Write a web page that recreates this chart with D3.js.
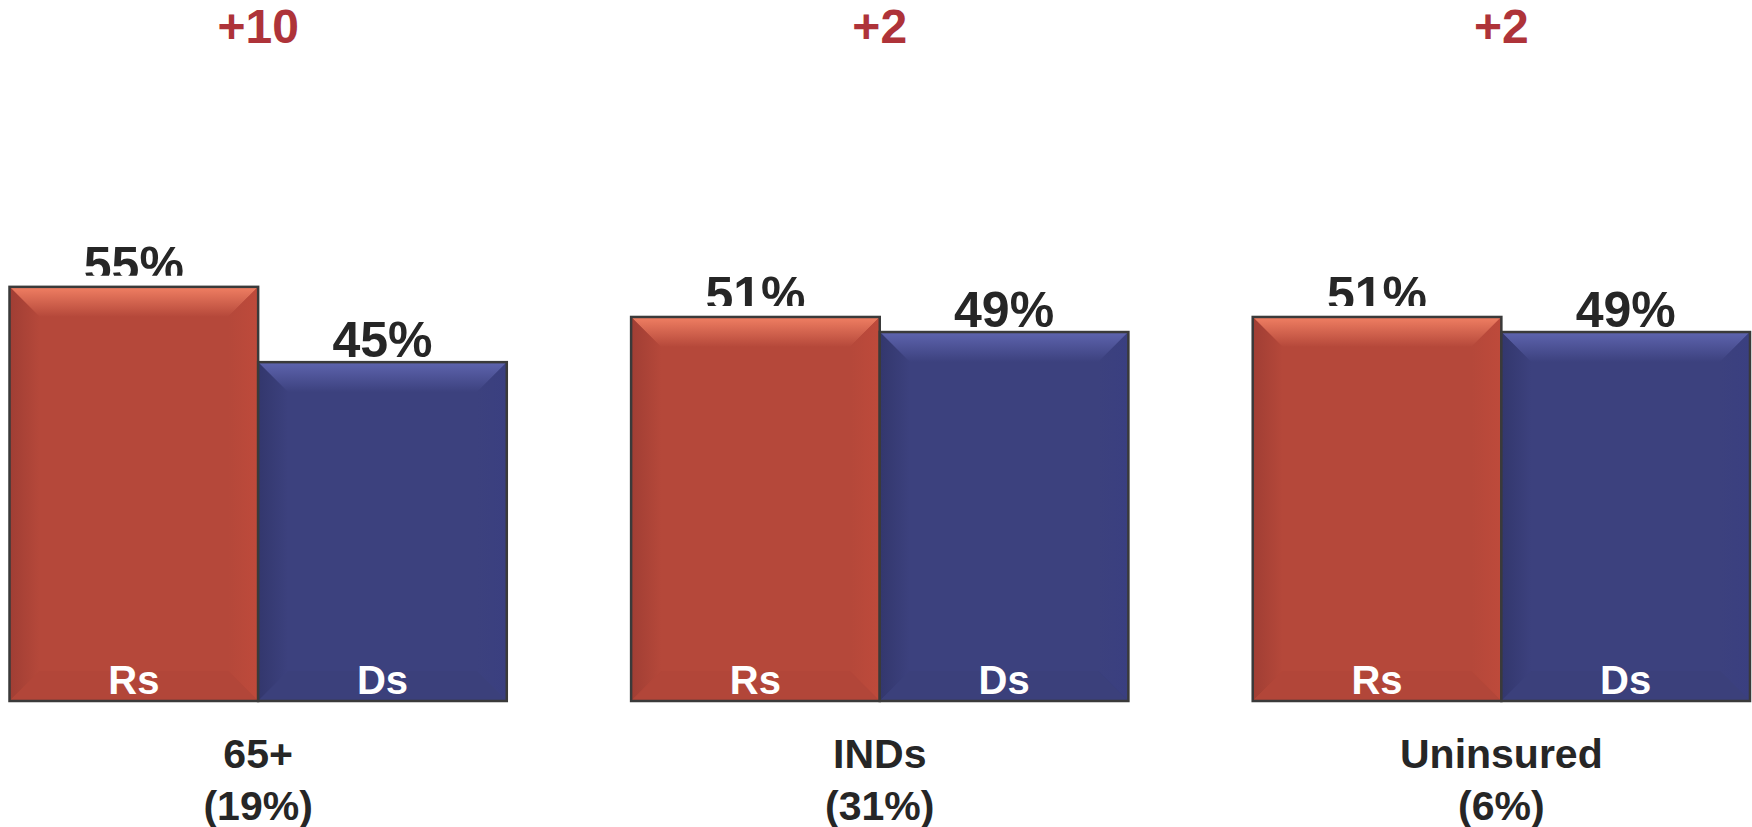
<!DOCTYPE html>
<html>
<head>
<meta charset="utf-8">
<script src="https://cdn.jsdelivr.net/npm/d3@7"></script>
<style>
  html, body { margin: 0; padding: 0; background: #ffffff; }
  svg { display: block; font-family: "Liberation Sans", Arial, sans-serif; }
</style>
</head>
<body>
<svg id="chart" width="1752" height="827"></svg>
<script>
// ---- data ----
const categories = ["65+", "INDs", "Uninsured"];
const shares = ["(19%)", "(31%)", "(6%)"];
const series = ["Rs", "Ds"];
const repValues = [55, 51, 51];
const demValues = [45, 49, 49];
const margins = ["+10", "+2", "+2"];

const W = 1752, H = 827;
const svg = d3.select("#chart");
const defs = svg.append("defs");

const x0 = d3.scaleBand().domain(categories).range([9.5, 1750]).paddingInner(0.2).paddingOuter(0);
const x1 = d3.scaleBand().domain(series).range([0, x0.bandwidth()]).padding(0);
const y = d3.scaleLinear().domain([0, 100]).range([701, -52]);

const palette = {
  Rs: { main: "#B5483A", light: "#F07F63", dark: "#A03E34", right: "#BE4A3B", bottom: "#B24639" },
  Ds: { main: "#3C417E", light: "#5E64AE", dark: "#33376D", right: "#3A3F80", bottom: "#3B407B" }
};

// gradients
series.forEach(s => {
  const p = palette[s];
  const gt = defs.append("linearGradient").attr("id", "top-" + s).attr("x1", 0).attr("y1", 0).attr("x2", 0).attr("y2", 1);
  gt.append("stop").attr("offset", "0%").attr("stop-color", p.light);
  gt.append("stop").attr("offset", "100%").attr("stop-color", p.main);
  const gl = defs.append("linearGradient").attr("id", "left-" + s).attr("x1", 0).attr("y1", 0).attr("x2", 1).attr("y2", 0);
  gl.append("stop").attr("offset", "0%").attr("stop-color", p.dark);
  gl.append("stop").attr("offset", "100%").attr("stop-color", p.main);
  const gr = defs.append("linearGradient").attr("id", "right-" + s).attr("x1", 0).attr("y1", 0).attr("x2", 1).attr("y2", 0);
  gr.append("stop").attr("offset", "0%").attr("stop-color", p.main);
  gr.append("stop").attr("offset", "100%").attr("stop-color", p.right);
});

const rows = categories.map((c, i) => ({
  cat: c, share: shares[i], margin: margins[i],
  bars: [{ s: "Rs", v: repValues[i], cat: c }, { s: "Ds", v: demValues[i], cat: c }]
}));

const bev = 30;
const labelFont = 50;

const groups = svg.selectAll("g.grp").data(rows).join("g")
  .attr("class", "grp")
  .attr("transform", d => `translate(${x0(d.cat)},0)`);

// value labels (drawn first, bars over them)
groups.each(function(d, gi) {
  const g = d3.select(this);
  d.bars.forEach((b, bi) => {
    const bx = x1(b.s), bw = x1.bandwidth();
    const top = y(b.v);
    const t = g.append("text")
      .attr("x", bx + bw / 2)
      .attr("y", top - 5)
      .attr("text-anchor", "middle")
      .attr("font-size", labelFont)
      .attr("font-weight", "bold")
      .attr("fill", "#262626")
      .text(b.v + "%");
    if (b.s === "Rs") {
      const cid = "clip-" + gi;
      defs.append("clipPath").attr("id", cid)
        .append("rect")
        .attr("x", bx - 20).attr("y", top - 80)
        .attr("width", bw + 40).attr("height", 80 - 11);
      t.attr("clip-path", `url(#${cid})`);
    }
  });
});

// bars
groups.each(function(d) {
  const g = d3.select(this);
  d.bars.forEach(b => {
    const p = palette[b.s];
    const bx = x1(b.s), bw = x1.bandwidth();
    const top = y(b.v), bot = y(0);
    const bg = g.append("g");
    bg.append("rect").attr("x", bx).attr("y", top).attr("width", bw).attr("height", bot - top).attr("fill", p.main);
    // top face
    bg.append("polygon")
      .attr("points", [[bx, top], [bx + bw, top], [bx + bw - bev, top + bev], [bx + bev, top + bev]].map(q => q.join(",")).join(" "))
      .attr("fill", `url(#top-${b.s})`);
    // left face
    bg.append("polygon")
      .attr("points", [[bx, top], [bx + bev, top + bev], [bx + bev, bot - bev], [bx, bot]].map(q => q.join(",")).join(" "))
      .attr("fill", `url(#left-${b.s})`);
    // right face
    bg.append("polygon")
      .attr("points", [[bx + bw, top], [bx + bw - bev, top + bev], [bx + bw - bev, bot - bev], [bx + bw, bot]].map(q => q.join(",")).join(" "))
      .attr("fill", `url(#right-${b.s})`);
    // bottom face
    bg.append("polygon")
      .attr("points", [[bx, bot], [bx + bev, bot - bev], [bx + bw - bev, bot - bev], [bx + bw, bot]].map(q => q.join(",")).join(" "))
      .attr("fill", p.bottom);
    // border
    bg.append("rect").attr("x", bx).attr("y", top).attr("width", bw).attr("height", bot - top)
      .attr("fill", "none").attr("stroke", "#3a3a3a").attr("stroke-width", 2.5);
    // series label inside
    bg.append("text")
      .attr("x", bx + bw / 2).attr("y", bot - 7)
      .attr("text-anchor", "middle")
      .attr("font-size", 40).attr("font-weight", "bold")
      .attr("fill", "#ffffff")
      .text(b.s);
  });
});

// margin labels on top
groups.append("text")
  .attr("x", x0.bandwidth() / 2).attr("y", 43)
  .attr("text-anchor", "middle")
  .attr("font-size", 48).attr("font-weight", "bold")
  .attr("fill", "#AE3339")
  .text(d => d.margin);

// category labels
groups.append("text")
  .attr("x", x0.bandwidth() / 2).attr("y", 768)
  .attr("text-anchor", "middle")
  .attr("font-size", 41).attr("font-weight", "bold")
  .attr("fill", "#262626")
  .text(d => d.cat);
groups.append("text")
  .attr("x", x0.bandwidth() / 2).attr("y", 820)
  .attr("text-anchor", "middle")
  .attr("font-size", 41).attr("font-weight", "bold")
  .attr("fill", "#262626")
  .text(d => d.share);
</script>
</body>
</html>
